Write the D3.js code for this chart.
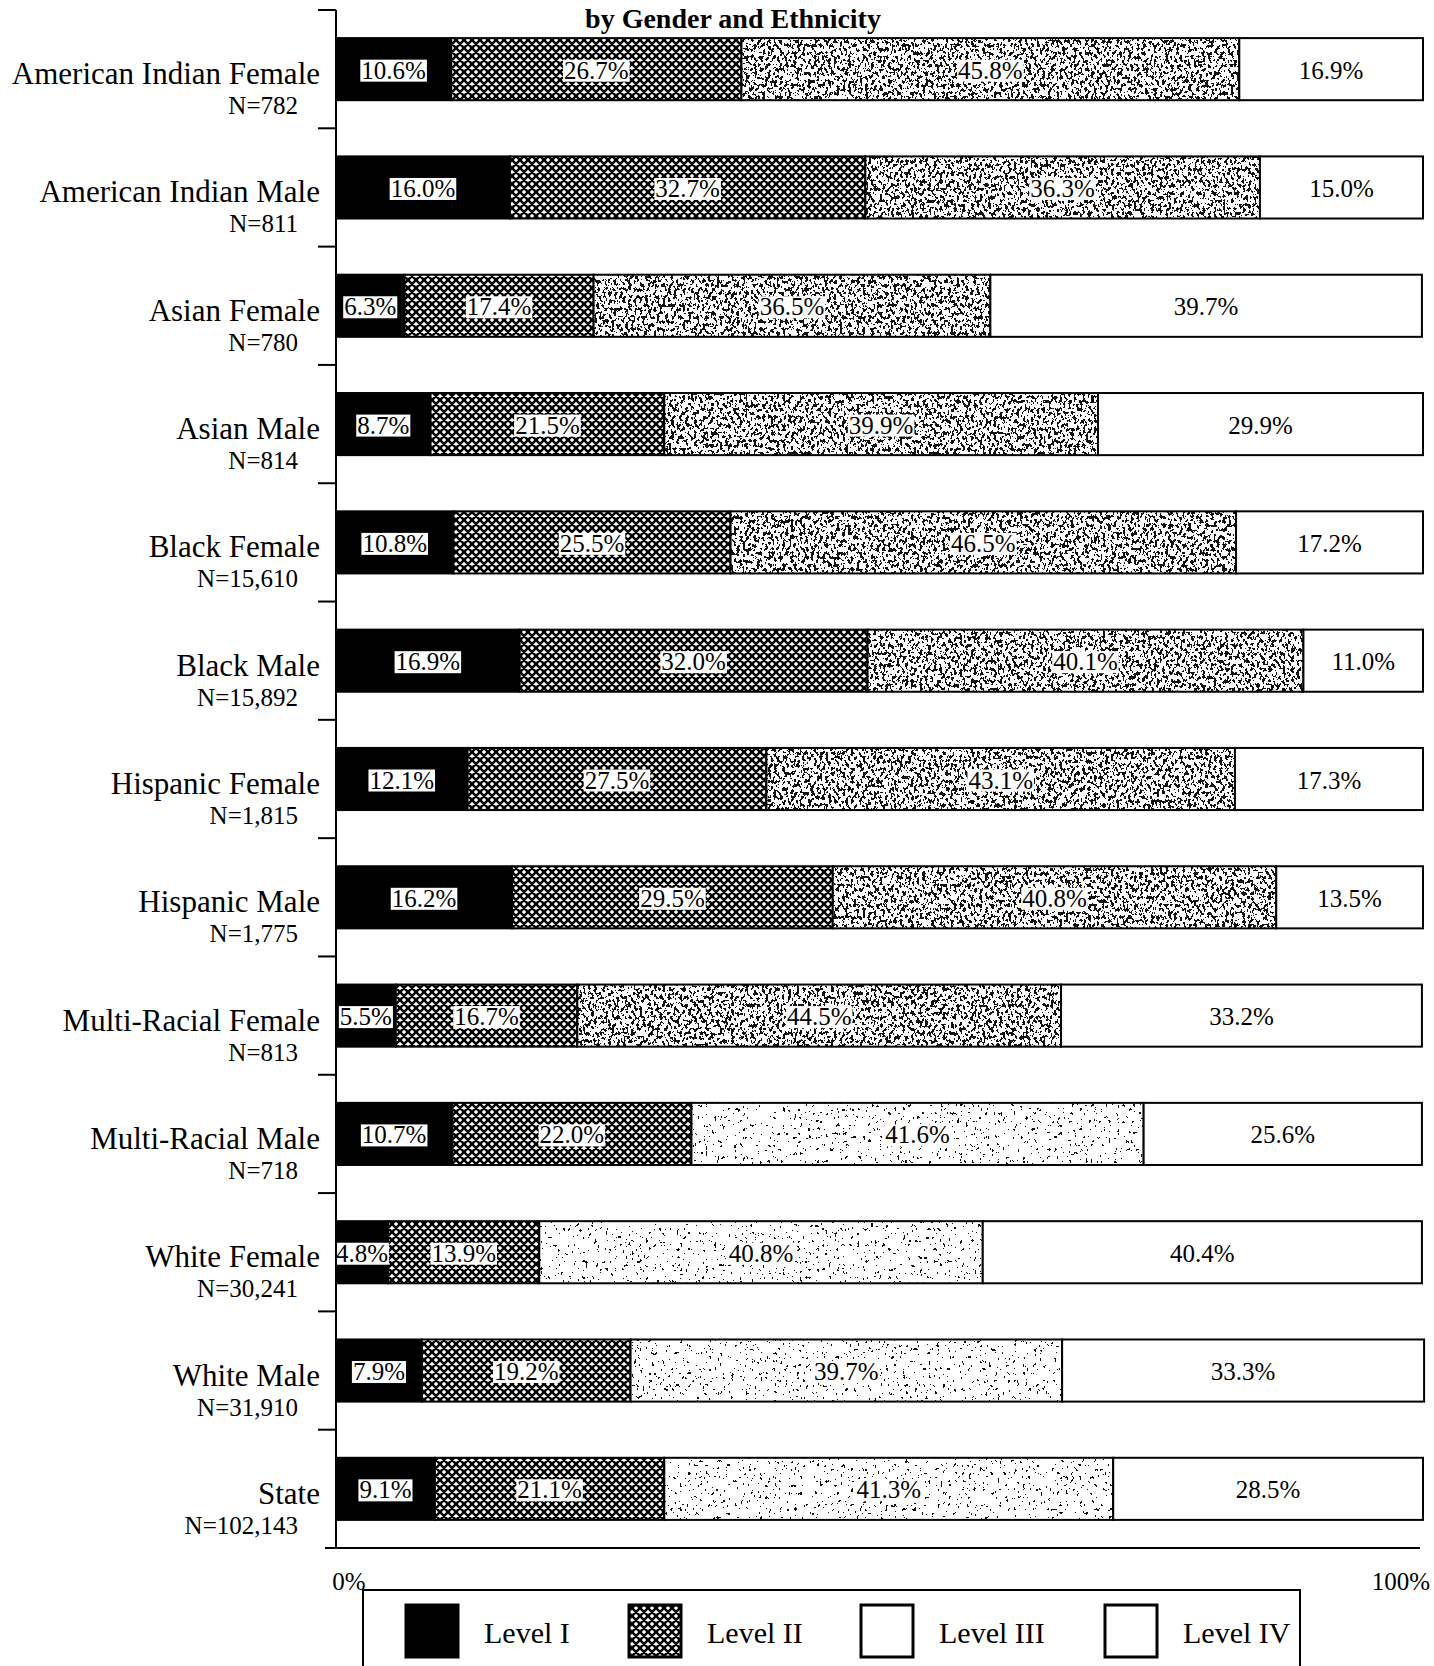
<!DOCTYPE html>
<html>
<head>
<meta charset="utf-8">
<script src="https://cdn.jsdelivr.net/npm/d3@7"></script>
<style>
  html, body { margin: 0; padding: 0; background: #fff; }
  svg { display: block; }
  text { font-family: "Liberation Serif", "Times New Roman", serif; fill: #000; }
</style>
</head>
<body>
<script>
// Achievement levels by group
const categories = [
  "American Indian Female", "American Indian Male", "Asian Female", "Asian Male",
  "Black Female", "Black Male", "Hispanic Female", "Hispanic Male",
  "Multi-Racial Female", "Multi-Racial Male", "White Female", "White Male", "State"
];
const sampleSizes = ["782", "811", "780", "814", "15,610", "15,892", "1,815", "1,775",
  "813", "718", "30,241", "31,910", "102,143"];
const level1 = [10.6, 16.0, 6.3, 8.7, 10.8, 16.9, 12.1, 16.2, 5.5, 10.7, 4.8, 7.9, 9.1];
const level2 = [26.7, 32.7, 17.4, 21.5, 25.5, 32.0, 27.5, 29.5, 16.7, 22.0, 13.9, 19.2, 21.1];
const level3 = [45.8, 36.3, 36.5, 39.9, 46.5, 40.1, 43.1, 40.8, 44.5, 41.6, 40.8, 39.7, 41.3];
const level4 = [16.9, 15.0, 39.7, 29.9, 17.2, 11.0, 17.3, 13.5, 33.2, 25.6, 40.4, 33.3, 28.5];
const levelNames = ["Level I", "Level II", "Level III", "Level IV"];
const axisTicks = [0, 100];
const titleText = "by Gender and Ethnicity";

const W = 1434, H = 1666;
const svg = d3.select("body").append("svg").attr("width", W).attr("height", H);

// ---- fills ----
const defs = svg.append("defs");
const hatch = defs.append("pattern").attr("id", "hatch")
  .attr("patternUnits", "userSpaceOnUse").attr("width", 8).attr("height", 8);
hatch.append("rect").attr("width", 8).attr("height", 8).attr("fill", "#fff");
hatch.append("path")
  .attr("d", "M0,0L8,8M8,0L0,8M-2,6L2,10M6,-2L10,2M-2,2L2,-2M6,10L10,6")
  .attr("stroke", "#000").attr("stroke-width", 2.5);

// speckled fill for Level III: thresholded noise used as a mask
function stippleFilter(id, table, freq, seed) {
  const f = defs.append("filter").attr("id", id)
    .attr("x", 0).attr("y", 0).attr("width", "100%").attr("height", "100%")
    .attr("color-interpolation-filters", "sRGB");
  f.append("feTurbulence").attr("type", "fractalNoise").attr("baseFrequency", freq)
    .attr("numOctaves", 3).attr("seed", seed).attr("result", "noise");
  f.append("feColorMatrix").attr("in", "noise").attr("type", "matrix")
    .attr("values", "0 0 0 0 0  0 0 0 0 0  0 0 0 0 0  1 0 0 0 0").attr("result", "a");
  f.append("feComponentTransfer").attr("in", "a").attr("result", "mask")
    .append("feFuncA").attr("type", "discrete").attr("tableValues", table);
  f.append("feComposite").attr("in", "SourceGraphic").attr("in2", "mask").attr("operator", "in");
}
stippleFilter("stipple-dense", "0 0 0 0 0 0 0 0 0 0 0 1 1 1 1 1 1 1 1 1", "0.35 0.25", 7);
stippleFilter("stipple-light", "0 0 0 0 0 0 0 0 0 0 0 0 0 0 1 1 1 1 1 1", "0.35 0.25", 11);
const lightRows = new Set(["Multi-Racial Male", "White Female", "White Male", "State"]);

// ---- scales ----
const x = d3.scaleLinear().domain([0, 100]).range([336, 1423]);
const y = d3.scaleBand().domain(categories).range([10, 1548])
  .paddingInner(0.475).paddingOuter(0.2375);
const bw = y.bandwidth();

const table = categories.map((c, i) => ({
  category: c, n: sampleSizes[i],
  l1: level1[i], l2: level2[i], l3: level3[i], l4: level4[i]
}));
const keys = ["l1", "l2", "l3", "l4"];
const series = d3.stack().keys(keys)(table);
const fills = { l1: "#000", l2: "url(#hatch)", l3: "#fff", l4: "#fff" };

// ---- title ----
svg.append("text").attr("x", 733).attr("y", 28).attr("text-anchor", "middle")
  .attr("font-size", 28).attr("font-weight", "bold").text(titleText);

// ---- bars ----
const barG = svg.append("g");
series.forEach(s => {
  const g = barG.append("g").attr("class", "series-" + s.key);
  g.selectAll("rect.seg").data(s).join("rect").attr("class", "seg")
    .attr("x", d => x(d[0])).attr("width", d => x(d[1]) - x(d[0]))
    .attr("y", d => y(d.data.category)).attr("height", bw)
    .attr("fill", fills[s.key]);
  if (s.key === "l3") {
    g.selectAll("rect.speck").data(s).join("rect").attr("class", "speck")
      .attr("x", d => x(d[0])).attr("width", d => x(d[1]) - x(d[0]))
      .attr("y", d => y(d.data.category)).attr("height", bw)
      .attr("fill", "#111")
      .attr("filter", d => lightRows.has(d.data.category) ? "url(#stipple-light)" : "url(#stipple-dense)");
  }
  g.selectAll("rect.edge").data(s).join("rect").attr("class", "edge")
    .attr("x", d => x(d[0])).attr("width", d => x(d[1]) - x(d[0]))
    .attr("y", d => y(d.data.category)).attr("height", bw)
    .attr("fill", "none").attr("stroke", "#000").attr("stroke-width", 2);
});

// ---- value labels ----
const labG = svg.append("g");
series.forEach(s => {
  s.forEach(d => {
    const cx = x((d[0] + d[1]) / 2);
    const base = y(d.data.category) + bw / 2 + 9.5;
    const grp = labG.append("g");
    const t = grp.append("text").attr("x", cx).attr("y", base)
      .attr("text-anchor", "middle").attr("font-size", 25)
      .text(d3.format(".1f")(d.data[s.key]) + "%");
    const bb = t.node().getBBox();
    grp.insert("rect", "text")
      .attr("x", bb.x - 1).attr("width", bb.width + 2)
      .attr("y", base - 19).attr("height", 22).attr("fill", "#fff");
  });
});

// ---- category axis ----
const axG = svg.append("g");
const [r0, r1] = y.range();
axG.append("line").attr("x1", x(0)).attr("x2", x(0)).attr("y1", r0).attr("y2", r1)
  .attr("stroke", "#000").attr("stroke-width", 2);
d3.range(categories.length).forEach(k => {
  const yy = r0 + k * y.step();
  axG.append("line").attr("x1", x(0) - 18).attr("x2", x(0)).attr("y1", yy).attr("y2", yy)
    .attr("stroke", "#000").attr("stroke-width", 2);
});
axG.append("line").attr("x1", x(0) - 11).attr("x2", x(100) - 3).attr("y1", r1).attr("y2", r1)
  .attr("stroke", "#000").attr("stroke-width", 2);

table.forEach(d => {
  const c = y(d.category) + bw / 2;
  axG.append("text").attr("x", 320).attr("y", c + 15).attr("text-anchor", "end")
    .attr("font-size", 31).text(d.category);
  axG.append("text").attr("x", 298).attr("y", c + 45).attr("text-anchor", "end")
    .attr("font-size", 25).text("N=" + d.n);
});

// ---- value axis labels ----
axisTicks.forEach(v => {
  svg.append("text").attr("x", v === 0 ? x(v) + 13 : x(v) - 22).attr("y", 1590)
    .attr("text-anchor", "middle").attr("font-size", 25).text(v + "%");
});

// ---- legend ----
const leg = svg.append("g");
leg.append("rect").attr("x", 363).attr("y", 1590).attr("width", 937).attr("height", 100)
  .attr("fill", "#fff").attr("stroke", "#000").attr("stroke-width", 2);
const legX = [406, 629, 861, 1105];
levelNames.forEach((name, i) => {
  leg.append("rect").attr("x", legX[i]).attr("y", 1605).attr("width", 52).attr("height", 52)
    .attr("fill", fills[keys[i]]).attr("stroke", "#000").attr("stroke-width", 3);
  leg.append("text").attr("x", legX[i] + 78).attr("y", 1643).attr("font-size", 30).text(name);
});
</script>
</body>
</html>
